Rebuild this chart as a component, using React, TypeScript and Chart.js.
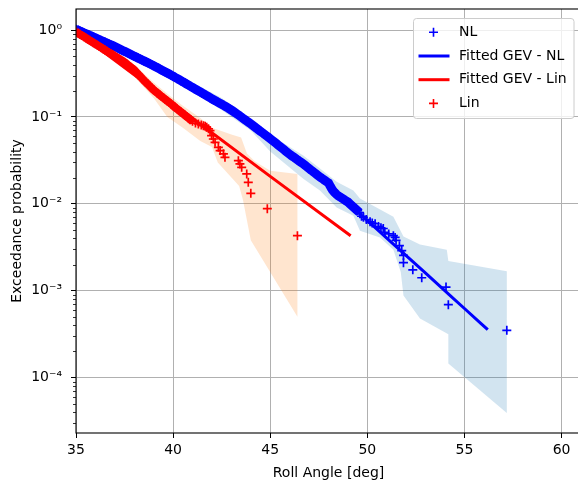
import React, { useEffect, useRef } from "react";
import { Chart, registerables } from "chart.js";

Chart.register(...registerables);

// ---------- data ----------
const nlAngle = [
  35.0, 35.1, 35.2, 35.3, 35.4, 35.5, 35.6, 35.7, 35.8, 35.9,
  36.0, 36.1, 36.2, 36.3, 36.4, 36.5, 36.6, 36.7, 36.8, 36.9,
  37.0, 37.1, 37.2, 37.3, 37.4, 37.5, 37.6, 37.7, 37.8, 37.9,
  38.0, 38.1, 38.2, 38.3, 38.4, 38.5, 38.6, 38.7, 38.8, 38.9,
  39.0, 39.1, 39.2, 39.3, 39.4, 39.5, 39.6, 39.7, 39.8, 39.9,
  40.0, 40.1, 40.2, 40.3, 40.4, 40.5, 40.6, 40.7, 40.8, 40.9,
  41.0, 41.1, 41.2, 41.3, 41.4, 41.5, 41.6, 41.7, 41.8, 41.9,
  42.0, 42.1, 42.2, 42.3, 42.4, 42.5, 42.6, 42.7, 42.8, 42.9,
  43.0, 43.1, 43.2, 43.3, 43.4, 43.5, 43.6, 43.7, 43.8, 43.9,
  44.0, 44.1, 44.2, 44.3, 44.4, 44.5, 44.6, 44.7, 44.8, 44.9,
  45.0, 45.1, 45.2, 45.3, 45.4, 45.5, 45.6, 45.7, 45.8, 45.9,
  46.0, 46.1, 46.2, 46.3, 46.4, 46.5, 46.6, 46.7, 46.8, 46.9,
  47.0, 47.1, 47.2, 47.3, 47.4, 47.5, 47.6, 47.7, 47.8, 47.9,
  48.0, 48.1, 48.2, 48.3, 48.4, 48.5, 48.6, 48.7, 48.8, 48.9,
  49.0, 49.1, 49.2, 49.3, 49.4, 49.5, 49.6,
  49.7, 49.8, 49.95, 50.14, 50.25, 50.4, 50.57, 50.7, 50.82, 50.9,
  51.1, 51.34, 51.43, 51.48, 51.65, 51.77, 51.86, 51.86, 52.34, 52.8,
  54.05, 54.17, 57.18,
];
const nlProb = [
  1.02, 1.0, 0.977, 0.955, 0.933, 0.912, 0.891, 0.871, 0.851, 0.832,
  0.813, 0.794, 0.776, 0.759, 0.741, 0.724, 0.708, 0.692, 0.676, 0.661,
  0.646, 0.63, 0.614, 0.598, 0.583, 0.569, 0.555, 0.541, 0.527, 0.514,
  0.501, 0.489, 0.476, 0.465, 0.453, 0.442, 0.431, 0.42, 0.409, 0.399,
  0.389, 0.378, 0.368, 0.358, 0.348, 0.339, 0.33, 0.321, 0.312, 0.303,
  0.295, 0.286, 0.278, 0.27, 0.262, 0.254, 0.247, 0.239, 0.232, 0.225,
  0.219, 0.212, 0.206, 0.2, 0.194, 0.188, 0.183, 0.177, 0.172, 0.167,
  0.162, 0.157, 0.153, 0.148, 0.144, 0.14, 0.136, 0.132, 0.128, 0.124,
  0.12, 0.116, 0.112, 0.108, 0.104, 0.1, 0.0964, 0.0929, 0.0895, 0.0863,
  0.0832, 0.08, 0.0769, 0.074, 0.0711, 0.0684, 0.0658, 0.0632, 0.0608, 0.0585,
  0.0562, 0.054, 0.0518, 0.0497, 0.0476, 0.0457, 0.0439, 0.0421, 0.0404, 0.0387,
  0.0372, 0.0358, 0.0346, 0.0333, 0.0321, 0.031, 0.0299, 0.0288, 0.0277, 0.0266,
  0.0255, 0.0245, 0.0236, 0.0226, 0.0217, 0.0209, 0.0201, 0.0194, 0.0187, 0.018,
  0.0174, 0.0158, 0.0145, 0.0136, 0.0129, 0.0124, 0.012, 0.0116, 0.0112, 0.0108,
  0.0105, 0.01, 0.00955, 0.00912, 0.00871, 0.00832, 0.00794,
  0.0072, 0.007, 0.0066, 0.0062, 0.006, 0.0059, 0.0055, 0.0053, 0.0052, 0.0047,
  0.0045, 0.0043, 0.0041, 0.0038, 0.0033, 0.0029, 0.00255, 0.0021, 0.00174, 0.00141,
  0.0011, 0.00069, 0.00035,
];
// the markers up to these angles are packed so tightly that they read as a solid band
const nlDenseUntil = 49.6;

const linAngle = [
  35.0, 35.1, 35.2, 35.3, 35.4, 35.5, 35.6, 35.7, 35.8, 35.9,
  36.0, 36.1, 36.2, 36.3, 36.4, 36.5, 36.6, 36.7, 36.8, 36.9,
  37.0, 37.1, 37.2, 37.3, 37.4, 37.5, 37.6, 37.7, 37.8, 37.9,
  38.0, 38.1, 38.2, 38.3, 38.4, 38.5, 38.6, 38.7, 38.8, 38.9,
  39.0, 39.1, 39.2, 39.3, 39.4, 39.5, 39.6, 39.7, 39.8, 39.9,
  40.0, 40.1, 40.2, 40.3, 40.4, 40.5, 40.6, 40.7, 40.8, 40.9,
  41.0, 41.15, 41.3, 41.45, 41.56, 41.65, 41.73, 41.82, 41.9, 41.98,
  42.07, 42.16, 42.33, 42.42, 42.59, 42.67, 43.36, 43.44, 43.53, 43.79,
  43.87, 44.0, 44.85, 46.4,
];
const linProb = [
  0.955, 0.925, 0.895, 0.867, 0.839, 0.813, 0.787, 0.762, 0.738, 0.714,
  0.692, 0.67, 0.649, 0.628, 0.608, 0.589, 0.57, 0.552, 0.535, 0.518,
  0.501, 0.485, 0.47, 0.455, 0.441, 0.427, 0.409, 0.393, 0.377, 0.361,
  0.347, 0.328, 0.31, 0.294, 0.278, 0.263, 0.25, 0.238, 0.226, 0.215,
  0.204, 0.196, 0.188, 0.18, 0.173, 0.166, 0.159, 0.153, 0.147, 0.141,
  0.135, 0.129, 0.124, 0.119, 0.114, 0.11, 0.105, 0.101, 0.0968, 0.0929,
  0.0891, 0.085, 0.083, 0.081, 0.0794, 0.078, 0.076, 0.073, 0.0697, 0.061,
  0.0558, 0.051, 0.0447, 0.041, 0.0376, 0.0343, 0.0314, 0.0288, 0.0263, 0.0221,
  0.0177, 0.0132, 0.0088, 0.0043,
];
const linDenseUntil = 41.0;

const nlFitAngle = [35, 37, 39, 41, 43, 45, 47, 49, 51, 53, 55, 56.2];
const nlFitProb = [1.0, 0.64, 0.389, 0.219, 0.12, 0.056, 0.0255, 0.0102, 0.00403, 0.00159, 0.000624, 0.000356];

const linFitAngle = [35, 40, 45, 49.14];
const linFitProb = [0.97, 0.142, 0.0207, 0.0043];

const nlUpperAngle = [35.0, 37.5, 40.0, 42.5, 44.0, 45.0, 46.7, 47.56, 48.42, 49.28, 49.62, 51.34, 51.86, 52.71, 54.09, 54.17, 57.18];
const nlUpperProb = [1.1, 0.63, 0.33, 0.165, 0.095, 0.0626, 0.0359, 0.0255, 0.018, 0.0142, 0.0115, 0.0071, 0.0042, 0.0034, 0.00296, 0.00219, 0.00168];
const nlLowerAngle = [35.0, 37.5, 40.0, 42.5, 44.0, 45.0, 46.7, 47.56, 48.42, 49.28, 49.62, 50.65, 51.34, 51.72, 51.86, 52.71, 54.17, 54.17, 57.18];
const nlLowerProb = [0.93, 0.51, 0.265, 0.12, 0.07, 0.04, 0.0195, 0.0142, 0.00906, 0.0073, 0.0049, 0.0041, 0.00296, 0.00164, 0.00088, 0.000477, 0.000315, 0.000145, 0.000039];

const linUpperAngle = [35.0, 36.0, 37.0, 38.0, 39.0, 39.7, 40.5, 41.4, 42.0, 43.0, 43.5, 43.8, 44.2, 45.0, 46.4];
const linUpperProb = [1.05, 0.76, 0.56, 0.4, 0.25, 0.185, 0.135, 0.097, 0.075, 0.063, 0.058, 0.038, 0.031, 0.024, 0.022];
const linLowerAngle = [35.0, 36.0, 37.0, 38.0, 39.0, 39.7, 40.5, 41.4, 42.0, 42.3, 43.4, 43.6, 44.0, 46.4];
const linLowerProb = [0.86, 0.62, 0.44, 0.29, 0.165, 0.1, 0.075, 0.053, 0.045, 0.03, 0.016, 0.011, 0.0038, 0.0005];

const xTickValues = [35, 40, 45, 50, 55, 60];
const yTickValues = [1e-4, 1e-3, 1e-2, 1e-1, 1];
const yTickLabels = ["10\u207B\u2074", "10\u207B\u00B3", "10\u207B\u00B2", "10\u207B\u00B9", "10\u2070"];
const minorMultipliers = [2, 3, 4, 5, 6, 7, 8, 9];
const legendLabels = ["NL", "Fitted GEV - NL", "Fitted GEV - Lin", "Lin"];
const xTitle = "Roll Angle [deg]";
const yTitle = "Exceedance probability";

// ---------- helpers ----------
const FONT = "'DejaVu Sans', sans-serif";
const zip = (xs: number[], ys: number[]) => xs.map((x, i) => ({ x, y: ys[i] }));
const polygon = (ux: number[], uy: number[], lx: number[], ly: number[]) =>
  zip(ux, uy).concat(zip(lx, ly).reverse());

const denseColor = (color: string, until: number) => (ctx: any) =>
  ctx.p1.parsed && ctx.p1.parsed.x <= until + 1e-9 ? color : "rgba(0,0,0,0)";

const overlayPlugin = {
  id: "overlay",
  afterDraw(chart: any) {
    const { ctx, chartArea: a, scales } = chart;
    const ys = scales.y;
    ctx.save();
    ctx.strokeStyle = "#000";
    ctx.lineWidth = 0.8;
    for (let e = -5; e <= 0; e++) {
      for (const m of minorMultipliers) {
        const v = m * Math.pow(10, e);
        if (v < ys.min || v > ys.max) continue;
        const py = Math.round(ys.getPixelForValue(v)) + 0.5;
        ctx.beginPath();
        ctx.moveTo(a.left - 3, py);
        ctx.lineTo(a.left, py);
        ctx.stroke();
      }
    }
    ctx.lineWidth = 1.1;
    ctx.strokeStyle = "#000";
    ctx.strokeRect(a.left, a.top, a.right - a.left, a.bottom - a.top);

    const bx = 413.5, by = 18.5, bw = 160.5, bh = 100, r = 3;
    ctx.beginPath();
    ctx.moveTo(bx + r, by);
    ctx.lineTo(bx + bw - r, by);
    ctx.arcTo(bx + bw, by, bx + bw, by + r, r);
    ctx.lineTo(bx + bw, by + bh - r);
    ctx.arcTo(bx + bw, by + bh, bx + bw - r, by + bh, r);
    ctx.lineTo(bx + r, by + bh);
    ctx.arcTo(bx, by + bh, bx, by + bh - r, r);
    ctx.lineTo(bx, by + r);
    ctx.arcTo(bx, by, bx + r, by, r);
    ctx.closePath();
    ctx.fillStyle = "rgba(255,255,255,0.8)";
    ctx.fill();
    ctx.strokeStyle = "#cccccc";
    ctx.lineWidth = 1;
    ctx.stroke();

    const rows = [32.3, 56, 79.7, 103.4];
    const kinds = ["marker", "line", "line", "marker"];
    const colors = ["#0000ff", "#0000ff", "#ff0000", "#ff0000"];
    ctx.font = `14px ${FONT}`;
    ctx.textBaseline = "middle";
    ctx.textAlign = "left";
    legendLabels.forEach((label, i) => {
      const cy = rows[i];
      ctx.strokeStyle = colors[i];
      if (kinds[i] === "line") {
        ctx.lineWidth = 3;
        ctx.beginPath();
        ctx.moveTo(418.5, cy);
        ctx.lineTo(449.5, cy);
        ctx.stroke();
      } else {
        ctx.lineWidth = 1.6;
        ctx.beginPath();
        ctx.moveTo(429, cy);
        ctx.lineTo(438, cy);
        ctx.moveTo(433.5, cy - 4.5);
        ctx.lineTo(433.5, cy + 4.5);
        ctx.stroke();
      }
      ctx.fillStyle = "#000";
      ctx.fillText(label, 459, cy);
    });
    ctx.restore();
  },
};

export default function App() {
  const ref = useRef<HTMLCanvasElement>(null);

  useEffect(() => {
    const canvas = ref.current;
    if (!canvas) return;
    const chart = new Chart(canvas, {
      type: "scatter",
      data: {
        datasets: [
          {
            label: "Lin",
            type: "line",
            data: zip(linAngle, linProb),
            showLine: true,
            borderColor: "#ff0000",
            borderWidth: 8,
            segment: { borderColor: denseColor("#ff0000", linDenseUntil) },
            pointStyle: "cross",
            pointRadius: 4.5,
            pointBorderColor: "#ff0000",
            pointBackgroundColor: "#ff0000",
            pointBorderWidth: 1.7,
            fill: false,
            order: 0,
          } as any,
          {
            label: "Fitted GEV - Lin",
            type: "line",
            data: zip(linFitAngle, linFitProb),
            borderColor: "#ff0000",
            borderWidth: 3,
            pointRadius: 0,
            fill: false,
            order: 1,
          } as any,
          {
            label: "Fitted GEV - NL",
            type: "line",
            data: zip(nlFitAngle, nlFitProb),
            borderColor: "#0000ff",
            borderWidth: 3,
            pointRadius: 0,
            cubicInterpolationMode: "monotone",
            fill: false,
            order: 2,
          } as any,
          {
            label: "NL",
            type: "line",
            data: zip(nlAngle, nlProb),
            showLine: true,
            borderColor: "#0000ff",
            borderWidth: 9,
            segment: { borderColor: denseColor("#0000ff", nlDenseUntil) },
            pointStyle: "cross",
            pointRadius: 4.5,
            pointBorderColor: "#0000ff",
            pointBackgroundColor: "#0000ff",
            pointBorderWidth: 1.7,
            fill: false,
            order: 3,
          } as any,
          {
            label: "Lin CI",
            type: "line",
            data: polygon(linUpperAngle, linUpperProb, linLowerAngle, linLowerProb),
            borderWidth: 0,
            borderColor: "rgba(0,0,0,0)",
            backgroundColor: "rgba(255,127,14,0.2)",
            pointRadius: 0,
            fill: "shape",
            order: 4,
          } as any,
          {
            label: "NL CI",
            type: "line",
            data: polygon(nlUpperAngle, nlUpperProb, nlLowerAngle, nlLowerProb),
            borderWidth: 0,
            borderColor: "rgba(0,0,0,0)",
            backgroundColor: "rgba(31,119,180,0.2)",
            pointRadius: 0,
            fill: "shape",
            order: 5,
          } as any,
        ],
      },
      options: {
        animation: false,
        responsive: false,
        devicePixelRatio: 1,
        events: [],
        layout: { padding: { top: 9, right: 9, left: 0, bottom: 0 } },
        plugins: {
          legend: { display: false },
          tooltip: { enabled: false },
        },
        scales: {
          x: {
            type: "linear",
            min: 35,
            max: 61,
            bounds: "data",
            afterBuildTicks: (s: any) => {
              s.ticks = xTickValues.map((v) => ({ value: v }));
            },
            afterFit: (s: any) => {
              s.height = 50;
              s.paddingLeft = 0;
              s.paddingRight = 0;
            },
            grid: { color: "#b0b0b0", lineWidth: 1, tickColor: "#000", tickLength: 5, drawTicks: true },
            border: { display: false },
            ticks: {
              color: "#000",
              font: { family: FONT, size: 14 },
              padding: 4,
              maxRotation: 0,
              autoSkip: false,
              callback: (v: any) => String(v),
            },
            title: {
              display: true,
              text: xTitle,
              color: "#000",
              font: { family: FONT, size: 14 },
              padding: { top: 0, bottom: 1 },
            },
          },
          y: {
            type: "logarithmic",
            min: 2.3e-5,
            max: 1.75,
            bounds: "data",
            afterBuildTicks: (s: any) => {
              s.ticks = yTickValues.map((v) => ({ value: v }));
            },
            afterFit: (s: any) => {
              s.width = 76;
              s.paddingTop = 0;
              s.paddingBottom = 0;
            },
            grid: { color: "#b0b0b0", lineWidth: 1, tickColor: "#000", tickLength: 5, drawTicks: true },
            border: { display: false },
            ticks: {
              color: "#000",
              font: { family: FONT, size: 14 },
              padding: 9,
              autoSkip: false,
              callback: (v: any) => {
                const i = yTickValues.findIndex((t) => Math.abs(Math.log10(t) - Math.log10(Number(v))) < 1e-6);
                return i >= 0 ? yTickLabels[i] : "";
              },
            },
            title: {
              display: true,
              text: yTitle,
              color: "#000",
              font: { family: FONT, size: 14 },
              padding: { top: 9, bottom: 0 },
            },
          },
        },
      } as any,
      plugins: [overlayPlugin],
    });
    return () => chart.destroy();
  }, []);

  return (
    <div
      style={{
        position: "fixed",
        left: 0,
        top: 0,
        width: 578,
        height: 483,
        overflow: "hidden",
        background: "#ffffff",
      }}
    >
      <canvas ref={ref} width={590} height={483} style={{ display: "block", width: 590, height: 483 }} />
    </div>
  );
}
